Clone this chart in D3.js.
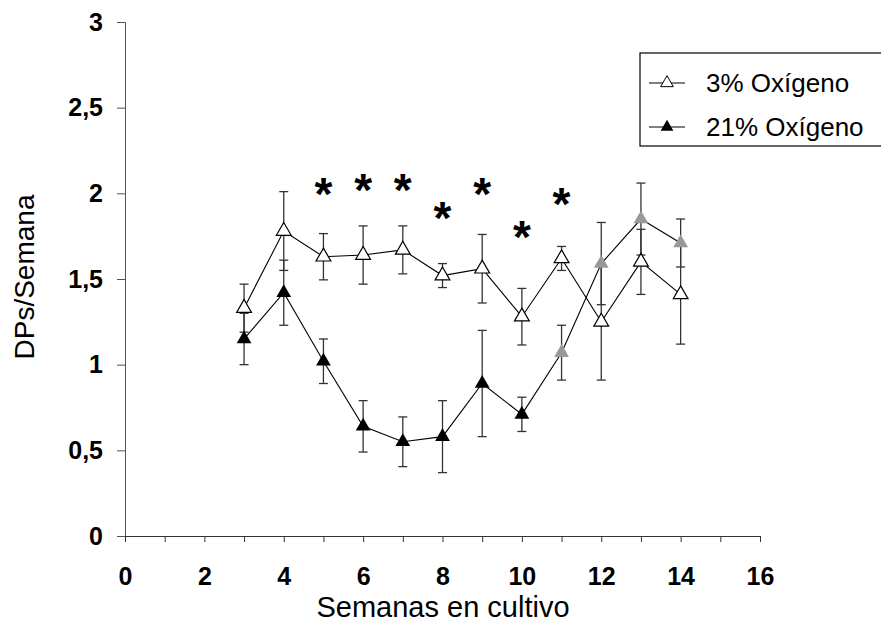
<!DOCTYPE html>
<html lang="es">
<head>
<meta charset="utf-8">
<script src="https://d3js.org/d3.v7.min.js"></script>
<style>
  body { margin: 0; background: #fff; }
  .tick text { font-family: "Liberation Sans Narrow", "Arial Narrow", "Liberation Sans", sans-serif; font-weight: bold; }
  .title { font-family: "Liberation Sans", Arial, sans-serif; }
</style>
</head>
<body>
<script>

// weeks in culture
var weeks = [3, 4, 5, 6, 7, 8, 9, 10, 11, 12, 13, 14];

// 3% oxygen: mean and error
var oxy3 = [1.33, 1.78, 1.63, 1.64, 1.67, 1.52, 1.56, 1.28, 1.62, 1.25, 1.60, 1.41];
var oxy3Err = [0.14, 0.23, 0.135, 0.17, 0.14, 0.07, 0.20, 0.165, 0.07, 0.34, 0.19, 0.29];

// 21% oxygen: mean and error
var oxy21 = [1.15, 1.42, 1.02, 0.64, 0.55, 0.58, 0.89, 0.71, 1.07, 1.59, 1.85, 1.71];
var oxy21Err = [0.15, 0.19, 0.13, 0.15, 0.145, 0.21, 0.31, 0.10, 0.16, 0.24, 0.21, 0.14];

// weeks where the 21% markers are drawn grey
var greyWeeks = [11, 12, 13, 14];

// significance asterisks
var starWeeks = [5, 6, 7, 8, 9, 10, 11];
var starValues = [2.06, 2.08, 2.08, 1.92, 2.06, 1.81, 2.0];

var yTicks = [0, 0.5, 1, 1.5, 2, 2.5, 3];
var xTicks = d3.range(0, 17, 1);
var legendLabels = ["3% Oxígeno", "21% Oxígeno"];

var width = 881, height = 627;

var x = d3.scaleLinear().domain([0, 16]).range([125, 760]);
var y = d3.scaleLinear().domain([0, 3]).range([536, 22]);

var svg = d3.select("body").append("svg")
  .attr("width", width)
  .attr("height", height);

// axes
var yAxis = d3.axisLeft(y)
  .tickValues(yTicks)
  .tickSize(8)
  .tickPadding(14)
  .tickFormat(function(d) { return String(d).replace(".", ","); });

svg.append("g")
  .attr("transform", "translate(" + x(0) + ",0)")
  .call(yAxis)
  .call(function(g) {
    g.select(".domain").attr("stroke", "#555");
    g.selectAll(".tick line").attr("stroke", "#555");
    g.selectAll(".tick text").attr("font-size", 25).attr("fill", "#000");
  });

var xAxis = d3.axisBottom(x)
  .tickValues(xTicks)
  .tickSize(6)
  .tickPadding(25)
  .tickFormat(function(d) { return d % 2 === 0 ? d : ""; });

svg.append("g")
  .attr("transform", "translate(0," + y(0) + ")")
  .call(xAxis)
  .call(function(g) {
    g.select(".domain").attr("stroke", "#333");
    g.selectAll(".tick line").attr("stroke", "#333");
    g.selectAll(".tick text").attr("font-size", 25).attr("fill", "#000");
  });

// axis titles
svg.append("text")
  .attr("class", "title")
  .attr("x", 443)
  .attr("y", 617)
  .attr("text-anchor", "middle")
  .attr("font-size", 29)
  .text("Semanas en cultivo");

svg.append("text")
  .attr("class", "title")
  .attr("transform", "translate(34,277) rotate(-90)")
  .attr("text-anchor", "middle")
  .attr("font-size", 28)
  .text("DPs/Semana");

function series(vals, errs) {
  return weeks.map(function(w, i) { return { week: w, v: vals[i], e: errs[i] }; });
}
var s3 = series(oxy3, oxy3Err);
var s21 = series(oxy21, oxy21Err);

// error bars
function drawErrors(data) {
  var g = svg.append("g").attr("stroke", "#333").attr("stroke-width", 1.3);
  g.selectAll(".whisker").data(data).enter().append("line")
    .attr("x1", function(d) { return x(d.week); })
    .attr("x2", function(d) { return x(d.week); })
    .attr("y1", function(d) { return y(d.v - d.e); })
    .attr("y2", function(d) { return y(d.v + d.e); });
  [-1, 1].forEach(function(sign) {
    g.selectAll(".cap" + sign).data(data).enter().append("line")
      .attr("x1", function(d) { return x(d.week) - 4.5; })
      .attr("x2", function(d) { return x(d.week) + 4.5; })
      .attr("y1", function(d) { return y(d.v + sign * d.e); })
      .attr("y2", function(d) { return y(d.v + sign * d.e); });
  });
}
drawErrors(s21);
drawErrors(s3);

// connecting lines
var line = d3.line()
  .x(function(d) { return x(d.week); })
  .y(function(d) { return y(d.v); });

[s21, s3].forEach(function(s) {
  svg.append("path")
    .datum(s)
    .attr("d", line)
    .attr("fill", "none")
    .attr("stroke", "#000")
    .attr("stroke-width", 1.1);
});

// markers
var tri = d3.symbol().type(d3.symbolTriangle).size(95);

svg.selectAll(".m21").data(s21).enter().append("path")
  .attr("d", tri)
  .attr("transform", function(d) { return "translate(" + x(d.week) + "," + y(d.v) + ")"; })
  .attr("fill", function(d) { return greyWeeks.indexOf(d.week) >= 0 ? "#999" : "#000"; });

svg.selectAll(".m3").data(s3).enter().append("path")
  .attr("d", tri)
  .attr("transform", function(d) { return "translate(" + x(d.week) + "," + y(d.v) + ")"; })
  .attr("fill", "#fff")
  .attr("stroke", "#000")
  .attr("stroke-width", 1.2);

// asterisks
svg.selectAll(".star").data(starWeeks).enter().append("text")
  .attr("x", function(d) { return x(d); })
  .attr("y", function(d, i) { return y(starValues[i]); })
  .attr("dy", "0.58em")
  .attr("text-anchor", "middle")
  .attr("font-family", "Liberation Sans, Arial, sans-serif")
  .attr("font-weight", "bold")
  .attr("font-size", 46)
  .text("*");

// legend
var legend = svg.append("g");
legend.append("rect")
  .attr("x", 640).attr("y", 53)
  .attr("width", 260).attr("height", 93)
  .attr("fill", "#fff")
  .attr("stroke", "#000")
  .attr("stroke-width", 1.2);

var rows = legend.selectAll(".row").data(legendLabels).enter().append("g")
  .attr("transform", function(d, i) { return "translate(0," + (83 + i * 44) + ")"; });

rows.append("line")
  .attr("x1", 649).attr("x2", 685)
  .attr("stroke", "#000").attr("stroke-width", 1.1);

rows.append("path")
  .attr("d", d3.symbol().type(d3.symbolTriangle).size(70))
  .attr("transform", "translate(667,0)")
  .attr("fill", function(d, i) { return i === 0 ? "#fff" : "#000"; })
  .attr("stroke", function(d, i) { return i === 0 ? "#000" : "none"; })
  .attr("stroke-width", 1);

rows.append("text")
  .attr("class", "title")
  .attr("x", 706)
  .attr("y", 9)
  .attr("font-size", 26)
  .text(function(d) { return d; });

</script>
</body>
</html>
